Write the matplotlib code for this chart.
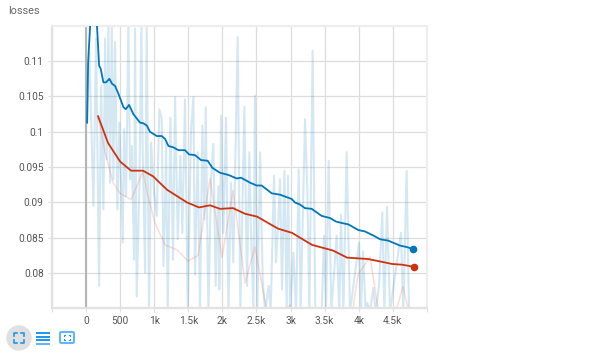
import matplotlib
matplotlib.use("Agg")
import matplotlib.pyplot as plt
from matplotlib.patches import Circle, FancyBboxPatch, Rectangle

plt.rcParams["font.family"] = ["Roboto", "DejaVu Sans"]

W, H = 604, 354

# raw losses (light blue)
raw_steps = [15, 49, 108, 147, 191, 220, 254, 279, 303, 328, 352, 377, 401, 425, 460, 489, 538, 557, 587,
             621, 646, 670, 704, 719, 743, 782, 812, 831, 866, 890, 924, 954, 998, 1037, 1076, 1110, 1135,
             1159, 1174, 1198, 1237, 1276, 1306, 1345, 1384, 1413, 1452, 1492, 1540, 1575, 1599, 1638,
             1672, 1707, 1736, 1756, 1795, 1834, 1868, 1902, 1941, 1956, 1981, 2015, 2054, 2088, 2127,
             2161, 2196, 2225, 2264, 2323, 2362, 2396, 2420, 2455, 2479, 2514, 2553, 2592, 2626, 2680,
             2709, 2758, 2787, 2822, 2846, 2875, 2910, 2944, 2963, 2993, 3042, 3081, 3120, 3149, 3213,
             3247, 3276, 3325, 3364, 3457, 3492, 3521, 3560, 3599, 3677, 3716, 3741, 3775, 3824, 3873,
             4005, 4034, 4064, 4103, 4127, 4166, 4215, 4250, 4298, 4347, 4377, 4416, 4460, 4621, 4655,
             4704, 4739]
raw_values = [0.1013, 0.1113, 0.0895, 0.1132, 0.0782, 0.1065, 0.0890, 0.1132, 0.0961, 0.1151, 0.0928, 0.1151,
              0.0933, 0.1127, 0.0890, 0.1013, 0.0843, 0.1004, 0.0909, 0.1151, 0.0933, 0.0980, 0.0819, 0.1146,
              0.0767, 0.0923, 0.1151, 0.0971, 0.0801, 0.1151, 0.0745, 0.0985, 0.0914, 0.0881, 0.1032, 0.1018,
              0.0810, 0.0895, 0.0985, 0.0745, 0.1020, 0.0819, 0.1049, 0.0848, 0.0966, 0.0857, 0.1046, 0.0745,
              0.1002, 0.1049, 0.0798, 0.0971, 0.0745, 0.1009, 0.0876, 0.1035, 0.0745, 0.0933, 0.0983, 0.0782,
              0.0923, 0.0777, 0.1023, 0.0857, 0.1020, 0.0745, 0.0928, 0.0815, 0.0994, 0.1134, 0.0745, 0.1035,
              0.0782, 0.0971, 0.0860, 0.0751, 0.1051, 0.0753, 0.0971, 0.0791, 0.0745, 0.0782, 0.0745, 0.0938,
              0.0815, 0.0876, 0.0933, 0.0777, 0.0945, 0.0745, 0.0938, 0.0745, 0.0829, 0.0745, 0.0947, 0.0745,
              0.1018, 0.0916, 0.0745, 0.1115, 0.0745, 0.0745, 0.0853, 0.0745, 0.0959, 0.0745, 0.0853, 0.0745,
              0.0883, 0.0745, 0.0971, 0.0745, 0.0843, 0.0745, 0.0831, 0.0745, 0.0758, 0.0745, 0.0779, 0.0745,
              0.0782, 0.0886, 0.0745, 0.0894, 0.0745, 0.0857, 0.0745, 0.0945, 0.0745]

# smoothed losses (blue)
smooth_steps = [15, 30, 59, 100, 160, 191, 215, 254, 293, 342, 381, 425, 474, 548, 582, 631, 694, 792, 841, 890,
                939, 1037, 1110, 1159, 1208, 1281, 1355, 1452, 1511, 1599, 1687, 1785, 1853, 1966, 2088, 2210,
                2274, 2333, 2406, 2504, 2577, 2724, 2846, 3017, 3066, 3140, 3213, 3311, 3457, 3580, 3668, 3751,
                3849, 3995, 4093, 4240, 4313, 4435, 4607, 4704, 4802]
smooth_values = [0.1013, 0.1098, 0.1149, 0.1200, 0.1150, 0.1094, 0.1089, 0.1070, 0.1070, 0.1075, 0.1068, 0.1065,
                 0.1054, 0.1035, 0.1032, 0.1038, 0.1025, 0.1013, 0.1012, 0.1009, 0.1000, 0.0994, 0.0994, 0.0990,
                 0.0980, 0.0978, 0.0974, 0.0974, 0.0968, 0.0967, 0.0960, 0.0959, 0.0949, 0.0942, 0.0939, 0.0934,
                 0.0935, 0.0932, 0.0928, 0.0924, 0.0924, 0.0913, 0.0911, 0.0905, 0.0900, 0.0897, 0.0892, 0.0891,
                 0.0881, 0.0878, 0.0873, 0.0871, 0.0869, 0.0861, 0.0859, 0.0852, 0.0848, 0.0846, 0.0839, 0.0837,
                 0.0834]

# raw validation losses (pale red)
val_raw_steps = [176, 279, 396, 499, 660, 836, 910, 1012, 1159, 1335, 1496, 1643, 1819, 1995, 2157, 2333, 2479,
                 2655, 2800, 2993, 3100, 3300, 3900, 3991, 4167, 4300, 4500, 4650, 4760]
val_raw_values = [0.1022, 0.0971, 0.0928, 0.0913, 0.0904, 0.0944, 0.0908, 0.0871, 0.0840, 0.0833, 0.0817, 0.0825,
                  0.0934, 0.0822, 0.0917, 0.0786, 0.0837, 0.0745, 0.0735, 0.0755, 0.0730, 0.0730, 0.0740, 0.0798,
                  0.0823, 0.0740, 0.0730, 0.0781, 0.0735]

# smoothed validation losses (red)
val_steps = [176, 323, 499, 660, 836, 983, 1188, 1482, 1658, 1819, 1966, 2157, 2333, 2509, 2817, 3022, 3316, 3624,
             3829, 4137, 4343, 4490, 4636, 4812]
val_values = [0.1022, 0.0984, 0.0958, 0.0945, 0.0945, 0.0937, 0.0918, 0.0900, 0.0893, 0.0896, 0.0891, 0.0892,
              0.0884, 0.0880, 0.0863, 0.0857, 0.0840, 0.0832, 0.0822, 0.0820, 0.0816, 0.0813, 0.0812, 0.0809]

x_ticks = [-500, 0, 500, 1000, 1500, 2000, 2500, 3000, 3500, 4000, 4500, 5000]
x_labels = ["", "0", "500", "1k", "1.5k", "2k", "2.5k", "3k", "3.5k", "4k", "4.5k", ""]
y_ticks = [0.08, 0.085, 0.09, 0.095, 0.1, 0.105, 0.11]
y_labels = ["0.08", "0.085", "0.09", "0.095", "0.1", "0.105", "0.11"]

fig = plt.figure(figsize=(W / 100, H / 100), dpi=100)
ax = fig.add_axes([52 / W, 1 - 308 / H, 375 / W, 282 / H])

ax.plot(raw_steps, raw_values, color="#0077bb", alpha=0.17, lw=1.5, zorder=2)
ax.plot(val_raw_steps, val_raw_values, color="#e8593a", alpha=0.2, lw=1.1, zorder=2)
ax.plot(smooth_steps, smooth_values, color="#0077bb", lw=1.3, zorder=3)
ax.plot(val_steps, val_values, color="#cc3311", lw=1.3, zorder=3)
ax.plot(smooth_steps[-1], smooth_values[-1], "o", color="#0077bb", ms=4.5, zorder=4)
ax.plot(val_steps[-1], val_values[-1], "o", color="#cc3311", ms=4.5, zorder=4)

ax.set_xlim(-499, 5003)
ax.set_ylim(0.07507, 0.11497)
ax.set_xticks(x_ticks, x_labels)
ax.set_yticks(y_ticks, y_labels)
ax.grid(color="#dddddd", lw=0.9)
ax.set_axisbelow(True)
ax.axvline(0, color="#b5b5b5", lw=1.5, zorder=1)
ax.tick_params(colors="#e0e0e0", labelcolor="#555555", labelsize=7.3, length=3, pad=3)
for name, s in ax.spines.items():
    s.set_color("#eeeeee" if name in ("top", "right") else "#e2e2e2")
    s.set_linewidth(1.6)

# title and the buttons under the chart, in pixels
over = fig.add_axes([0, 0, 1, 1])
over.set_xlim(0, W)
over.set_ylim(H, 0)
over.axis("off")
over.text(8, 11, "losses", color="#666666", fontsize=7.8, va="center")

blue = "#2196f3"
over.add_patch(Circle((19, 338), 12, color="#e0e0e0"))
for cx, cy, dx, dy in [(14, 333, 1, 1), (24, 333, -1, 1), (14, 343, 1, -1), (24, 343, -1, -1)]:
    over.plot([cx + 3 * dx, cx, cx], [cy, cy, cy + 3 * dy], color=blue, lw=1.2)
for y, a in [(332, 1), (335.5, 1), (339, 1), (342.5, 0.7)]:
    over.add_patch(Rectangle((36, y), 14, 2, color=blue, alpha=a, lw=0))
over.add_patch(FancyBboxPatch((60, 332), 14, 11, boxstyle="round,pad=0,rounding_size=1.5",
                              fc="none", ec="#64b5f6", lw=1.5))
for cx, cy, dx, dy in [(64, 335, 1, 1), (70, 335, -1, 1), (64, 340, 1, -1), (70, 340, -1, -1)]:
    over.plot([cx + dx, cx, cx], [cy, cy, cy + dy], color=blue, lw=0.8)

fig.savefig("out.png", dpi=100)
